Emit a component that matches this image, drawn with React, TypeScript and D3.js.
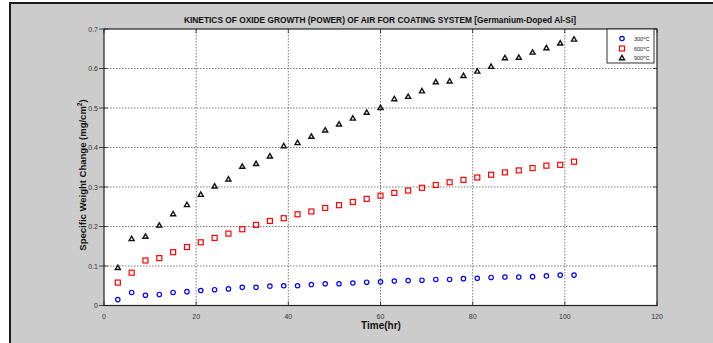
import { useEffect, useRef } from "react";
import * as d3 from "d3";

const times = d3.range(3, 103, 3);

const w300 = [
  0.015, 0.033, 0.026, 0.028, 0.033, 0.035, 0.038, 0.04, 0.042, 0.046, 0.046,
  0.049, 0.05, 0.05, 0.053, 0.055, 0.055, 0.057, 0.059, 0.06, 0.062, 0.063,
  0.064, 0.066, 0.066, 0.068, 0.069, 0.071, 0.072, 0.072, 0.073, 0.075, 0.077,
  0.077,
];

const w600 = [
  0.058, 0.083, 0.114, 0.12, 0.135, 0.148, 0.16, 0.171, 0.182, 0.193, 0.204,
  0.214, 0.221, 0.231, 0.238, 0.247, 0.254, 0.262, 0.27, 0.278, 0.285, 0.291,
  0.298, 0.305, 0.312, 0.318, 0.324, 0.331, 0.337, 0.342, 0.348, 0.354, 0.356,
  0.364,
];

const w900 = [
  0.095, 0.168, 0.174, 0.202, 0.231, 0.254, 0.28, 0.301, 0.319, 0.351, 0.358,
  0.377, 0.403, 0.411, 0.427, 0.443, 0.458, 0.473, 0.488, 0.5, 0.522, 0.528,
  0.542, 0.565, 0.567, 0.581, 0.592, 0.604, 0.626, 0.627, 0.64, 0.651, 0.663,
  0.673,
];

const xTicks = [0, 20, 40, 60, 80, 100, 120];
const yTicks = [0, 0.1, 0.2, 0.3, 0.4, 0.5, 0.6, 0.7];
const legendLabels = ["300", "600", "900"];

const W = 713,
  H = 343;
const left = 104,
  right = 657,
  top = 29,
  bottom = 305.5;

export default function App() {
  const ref = useRef<SVGSVGElement>(null);

  useEffect(() => {
    const svg = d3.select(ref.current);
    svg.selectAll("*").remove();

    const x = d3.scaleLinear().domain([0, 120]).range([left, right]);
    const y = d3.scaleLinear().domain([0, 0.7]).range([bottom, top]);

    svg.append("rect").attr("width", W).attr("height", H).attr("fill", "#fff");
    svg
      .append("rect")
      .attr("x", 10)
      .attr("y", 3)
      .attr("width", W)
      .attr("height", H)
      .attr("fill", "#cccccc")
      .attr("stroke", "#1a1a1a")
      .attr("stroke-width", 2);

    svg
      .append("rect")
      .attr("x", left)
      .attr("y", top)
      .attr("width", right - left)
      .attr("height", bottom - top)
      .attr("fill", "#fff");

    // grid
    const grid = svg.append("g").attr("stroke", "#555").attr("stroke-width", 0.8).attr("stroke-dasharray", "1.5,1.5");
    grid
      .selectAll(".vg")
      .data(xTicks.slice(1, -1))
      .enter()
      .append("line")
      .attr("x1", (d) => x(d))
      .attr("x2", (d) => x(d))
      .attr("y1", top)
      .attr("y2", bottom);
    grid
      .selectAll(".hg")
      .data(yTicks.slice(1, -1))
      .enter()
      .append("line")
      .attr("x1", left)
      .attr("x2", right)
      .attr("y1", (d) => y(d))
      .attr("y2", (d) => y(d));

    // ticks
    const ticks = svg.append("g").attr("stroke", "#222").attr("stroke-width", 0.8);
    xTicks.forEach((d) => {
      ticks.append("line").attr("x1", x(d)).attr("x2", x(d)).attr("y1", bottom).attr("y2", bottom - 4);
      ticks.append("line").attr("x1", x(d)).attr("x2", x(d)).attr("y1", top).attr("y2", top + 4);
    });
    yTicks.forEach((d) => {
      ticks.append("line").attr("x1", left - 5).attr("x2", left + 4).attr("y1", y(d)).attr("y2", y(d));
      ticks.append("line").attr("x1", right).attr("x2", right - 4).attr("y1", y(d)).attr("y2", y(d));
    });

    svg
      .append("rect")
      .attr("x", left)
      .attr("y", top)
      .attr("width", right - left)
      .attr("height", bottom - top)
      .attr("fill", "none")
      .attr("stroke", "#222")
      .attr("stroke-width", 1.2);

    // tick labels
    svg
      .selectAll(".xl")
      .data(xTicks)
      .enter()
      .append("text")
      .attr("x", (d) => x(d))
      .attr("y", bottom + 13)
      .attr("text-anchor", "middle")
      .attr("font-family", "Arial, Liberation Sans, sans-serif")
      .attr("font-size", 7)
      .attr("fill", "#333")
      .text((d) => d);
    svg
      .selectAll(".yl")
      .data(yTicks)
      .enter()
      .append("text")
      .attr("x", left - 6)
      .attr("y", (d) => y(d) + 2.5)
      .attr("text-anchor", "end")
      .attr("font-family", "Arial, Liberation Sans, sans-serif")
      .attr("font-size", 7)
      .attr("fill", "#333")
      .text((d) => (d === 0 ? "0" : d.toFixed(1)));

    // title and axis labels
    svg
      .append("text")
      .attr("x", 380)
      .attr("y", 23)
      .attr("text-anchor", "middle")
      .attr("font-family", "Arial, Liberation Sans, sans-serif")
      .attr("font-weight", "bold")
      .attr("font-size", 8.5)
      .attr("textLength", 392)
      .attr("lengthAdjust", "spacingAndGlyphs")
      .attr("fill", "#111")
      .text("KINETICS OF OXIDE GROWTH (POWER) OF AIR FOR COATING SYSTEM [Germanium-Doped Al-Si]");

    svg
      .append("text")
      .attr("x", 381)
      .attr("y", 329)
      .attr("text-anchor", "middle")
      .attr("font-family", "Arial, Liberation Sans, sans-serif")
      .attr("font-weight", "bold")
      .attr("font-size", 10)
      .attr("fill", "#111")
      .text("Time(hr)");

    const yl = svg
      .append("text")
      .attr("transform", "translate(86,175) rotate(-90)")
      .attr("text-anchor", "middle")
      .attr("font-family", "Arial, Liberation Sans, sans-serif")
      .attr("font-weight", "bold")
      .attr("font-size", 9.5)
      .attr("fill", "#111");
    yl.append("tspan").text("Specific Weight Change (mg/cm");
    yl.append("tspan").attr("font-size", 6.5).attr("dy", -4).text("2");
    yl.append("tspan").attr("dy", 4).text(")");

    // markers
    const pts = (vals: number[]) => vals.map((v, i) => ({ t: times[i], v }));

    svg
      .append("g")
      .selectAll("circle")
      .data(pts(w300))
      .enter()
      .append("circle")
      .attr("cx", (d) => x(d.t))
      .attr("cy", (d) => y(d.v))
      .attr("r", 2.2)
      .attr("fill", "none")
      .attr("stroke", "#0000ff")
      .attr("stroke-width", 1.2);

    svg
      .append("g")
      .selectAll("rect")
      .data(pts(w600))
      .enter()
      .append("rect")
      .attr("x", (d) => x(d.t) - 2.5)
      .attr("y", (d) => y(d.v) - 2.5)
      .attr("width", 5)
      .attr("height", 5)
      .attr("fill", "none")
      .attr("stroke", "#ff0000")
      .attr("stroke-width", 1.2);

    const tri = d3.symbol().type(d3.symbolTriangle).size(11);
    svg
      .append("g")
      .selectAll("path")
      .data(pts(w900))
      .enter()
      .append("path")
      .attr("d", tri)
      .attr("transform", (d) => `translate(${x(d.t)},${y(d.v)})`)
      .attr("fill", "none")
      .attr("stroke", "#111")
      .attr("stroke-width", 1.4);

    // legend
    const lg = svg.append("g");
    lg.append("rect")
      .attr("x", 607)
      .attr("y", 29)
      .attr("width", 47)
      .attr("height", 34)
      .attr("fill", "#fff")
      .attr("stroke", "#333")
      .attr("stroke-width", 1);
    const ly = [38.5, 48.5, 58.3];
    lg.append("circle").attr("cx", 622).attr("cy", ly[0]).attr("r", 2.2).attr("fill", "none").attr("stroke", "#0000ff").attr("stroke-width", 1.2);
    lg.append("rect").attr("x", 619.5).attr("y", ly[1] - 2.5).attr("width", 5).attr("height", 5).attr("fill", "none").attr("stroke", "#ff0000").attr("stroke-width", 1.2);
    lg.append("path").attr("d", tri).attr("transform", `translate(622,${ly[2]})`).attr("fill", "none").attr("stroke", "#111").attr("stroke-width", 1.4);
    legendLabels.forEach((l, i) => {
      const t = lg
        .append("text")
        .attr("x", 634)
        .attr("y", ly[i] + 2)
        .attr("font-family", "Arial, Liberation Sans, sans-serif")
        .attr("font-size", 5.5)
        .attr("fill", "#222");
      t.append("tspan").text(l);
      t.append("tspan").attr("font-size", 4).attr("dy", -2).text("o");
      t.append("tspan").attr("dy", 2).text("C");
    });
  }, []);

  return (
    <svg
      ref={ref}
      width={W}
      height={H}
      style={{ position: "absolute", left: 0, top: 0 }}
    />
  );
}
